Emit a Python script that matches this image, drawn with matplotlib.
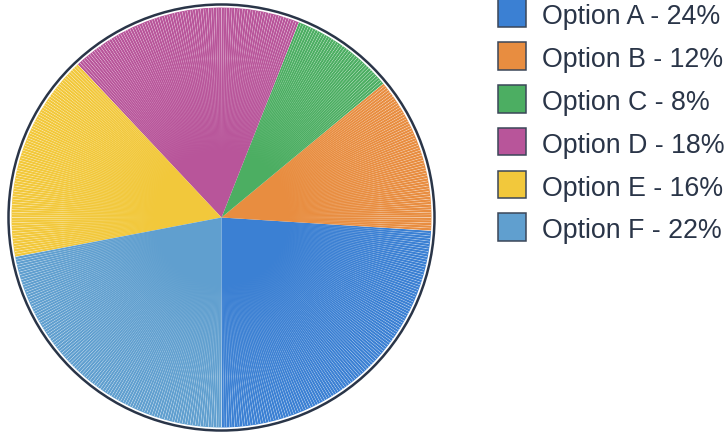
import numpy as np
import matplotlib
matplotlib.use("Agg")
import matplotlib.pyplot as plt
from matplotlib.patches import Circle, Rectangle

labels = ["Option A", "Option B", "Option C", "Option D", "Option E", "Option F"]
values = [24, 12, 8, 18, 16, 22]
colors = ["#3b80d3", "#e88d40", "#4cae62", "#b8559a", "#f2c83b", "#609fcf"]

W, H = 724, 439
fig = plt.figure(figsize=(W / 100, H / 100), dpi=100)
ax = fig.add_axes([0, 0, 1, 1])

cx, cy = 221.5, H - 218.5
R = 210
wedges, _ = ax.pie(values, colors=colors, startangle=-90, counterclock=True,
                   radius=R, center=(cx, cy), frame=True,
                   wedgeprops=dict(linewidth=0, antialiased=True))
ax.set_xlim(0, W)
ax.set_ylim(0, H)
ax.set_aspect("equal")
ax.axis("off")

# faint radial seam texture as an overlay image
x0, x1 = int(cx - R) - 1, int(cx + R) + 2
y0, y1 = int(cy - R) - 1, int(cy + R) + 2
xs = np.arange(x0, x1) + 0.5
ys = np.arange(y0, y1) + 0.5
X, Y = np.meshgrid(xs, ys)
dx, dy = X - cx, Y - cy
r = np.hypot(dx, dy)
th = np.arctan2(dy, dx)
step = np.deg2rad(0.72)
ph = np.mod(th, step)
dang = np.minimum(ph, step - ph)
dpx = r * dang
prof = np.clip(1 - dpx / 0.65, 0, 1)
ramp = np.clip((r - 0.3 * R) / (0.7 * R), 0, 1) ** 1.2 * 0.55
alpha = prof * ramp
alpha[r > R - 0.5] = 0
img = np.ones((len(ys), len(xs), 4))
img[..., 3] = alpha
ax.imshow(img, extent=(x0, x1, y0, y1), origin="lower", zorder=3,
          interpolation="nearest")
ax.set_xlim(0, W)
ax.set_ylim(0, H)

ax.add_patch(Circle((cx, cy), 213, fill=False, edgecolor="#2a3548",
                    linewidth=1.8, zorder=4))

# legend
total = sum(values)
row_y = [14, 57, 100, 142.8, 185.6, 228.4]
for lab, v, c, yy in zip(labels, values, colors, row_y):
    y = H - yy
    ax.add_patch(Rectangle((498.5, y - 13.5), 27.5, 27.5, facecolor=c,
                           edgecolor="#3b4658", linewidth=1.1, zorder=5))
    ax.text(542, y, f"{lab} - {round(100 * v / total)}%", fontsize=19.3,
            family="Liberation Sans", color="#2a3548", va="center_baseline",
            ha="left", zorder=5)

fig.savefig("out.png", dpi=100)
